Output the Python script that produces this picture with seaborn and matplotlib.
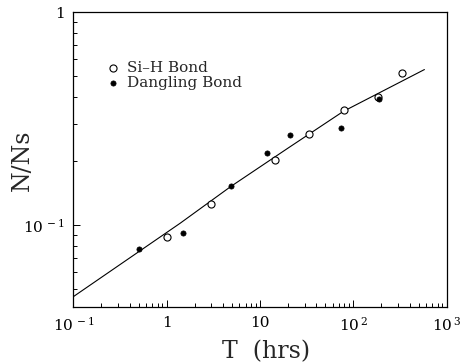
import numpy as np
import pandas as pd
import matplotlib
matplotlib.use('Agg')
import matplotlib.pyplot as plt
from matplotlib.ticker import LogLocator, FixedLocator, FixedFormatter, NullFormatter
import seaborn as sns

# data
sih_t = [1.0, 3.0, 14.4, 33.2, 78.5, 182, 332]
sih_n = [0.088, 0.126, 0.202, 0.268, 0.347, 0.401, 0.517]
db_t = [0.5, 1.5, 4.95, 11.8, 21.1, 74.3, 190]
db_n = [0.077, 0.092, 0.152, 0.219, 0.264, 0.287, 0.390]
fit_t = [0.1, 1.4, 4.9, 20.0, 78.0, 577]
fit_n = [0.046, 0.102, 0.152, 0.230, 0.342, 0.538]

sih = pd.DataFrame({'T': sih_t, 'N': sih_n})
db = pd.DataFrame({'T': db_t, 'N': db_n})
fit = pd.DataFrame({'T': fit_t, 'N': fit_n})

sns.set_style('ticks')
plt.rcParams['font.family'] = ['DejaVu Serif']
plt.rcParams['mathtext.fontset'] = 'dejavuserif'

fig = plt.figure(figsize=(4.61, 3.63), dpi=100)
ax = fig.add_axes([0.159, 0.1534, 0.81, 0.8127])

sns.lineplot(data=fit, x='T', y='N', ax=ax, color='black', lw=0.8, sort=False)
sns.scatterplot(data=sih, x='T', y='N', ax=ax, marker='o', s=26, facecolor='white',
                edgecolor='black', linewidth=0.8, label='Si\u2013H Bond', zorder=3)
sns.scatterplot(data=db, x='T', y='N', ax=ax, marker='o', s=14, color='black',
                edgecolor='black', linewidth=0.5, label='Dangling Bond', zorder=3)

ax.set_xscale('log')
ax.set_yscale('log')
ax.set_xlim(0.1, 1000)
ax.set_ylim(0.041, 1.0)

ax.xaxis.set_major_locator(FixedLocator([0.1, 1, 10, 100, 1000]))
ax.xaxis.set_major_formatter(FixedFormatter([r'$10^{\,-1}$', '1', '10', r'$10^{\,2}$', r'$10^{\,3}$']))
ax.xaxis.set_minor_locator(LogLocator(base=10, subs=np.arange(2, 10), numticks=20))
ax.xaxis.set_minor_formatter(NullFormatter())
ax.yaxis.set_major_locator(FixedLocator([0.1, 1]))
ax.yaxis.set_major_formatter(FixedFormatter([r'$10^{\,-1}$', '1']))
ax.yaxis.set_minor_locator(LogLocator(base=10, subs=np.arange(2, 10), numticks=20))
ax.yaxis.set_minor_formatter(NullFormatter())

ax.tick_params(which='both', direction='in', top=False, right=False, colors='black',
               labelsize=11, width=0.7)
ax.tick_params(which='major', length=5, pad=6)
ax.tick_params(which='minor', length=3)
for sp in ax.spines.values():
    sp.set_linewidth(0.9)
    sp.set_color('black')

ax.set_xlabel('T  (hrs)', fontsize=17)
ax.set_ylabel('N/Ns', fontsize=17)
ax.xaxis.set_label_coords(0.515, -0.11)
ax.yaxis.set_label_coords(-0.105, 0.5)

ax.legend(loc='upper left', bbox_to_anchor=(0.065, 0.855), frameon=False, fontsize=11,
          handletextpad=0.3, labelspacing=0.05, borderaxespad=0, handlelength=1.2)

plt.savefig('out.png', dpi=100)
